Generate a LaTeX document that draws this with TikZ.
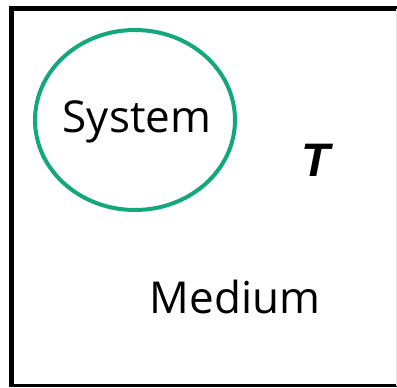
\documentclass[tikz,border=0pt]{standalone}
\usepackage{fontspec}
\newfontfamily\labelfont{Open Sans}
\newfontfamily\symfont{Liberation Sans}
\definecolor{sysgreen}{RGB}{18,168,124}
\tikzset{
  lbl/.style={font=\labelfont\fontsize{44}{48}\selectfont, anchor=base, inner sep=0pt},
}

\begin{document}
\begin{tikzpicture}[x=1pt,y=-1pt]
        \useasboundingbox (0,0) rectangle (397,388);
        % medium box
        \draw[line width=5pt] (11.5,386) -- (11.5,8.5) -- (397,8.5);
        \draw[line width=2.5pt] (9,385.5) -- (397,385.5);
        \draw[gray!20, line width=0.8pt] (396.2,8.5) -- (396.2,385.5);

        % system
        \draw[sysgreen, line width=4pt] (135,120) ellipse (100 and 90);
        \node[lbl] (sys) at (137,132) {System};

        \node[lbl, font=\symfont\fontsize{47}{50}\selectfont\bfseries\itshape] (temp) at (316,176) {T};
        \node[lbl] (med) at (235,313) {Medium};
    \end{tikzpicture}
\end{document}
